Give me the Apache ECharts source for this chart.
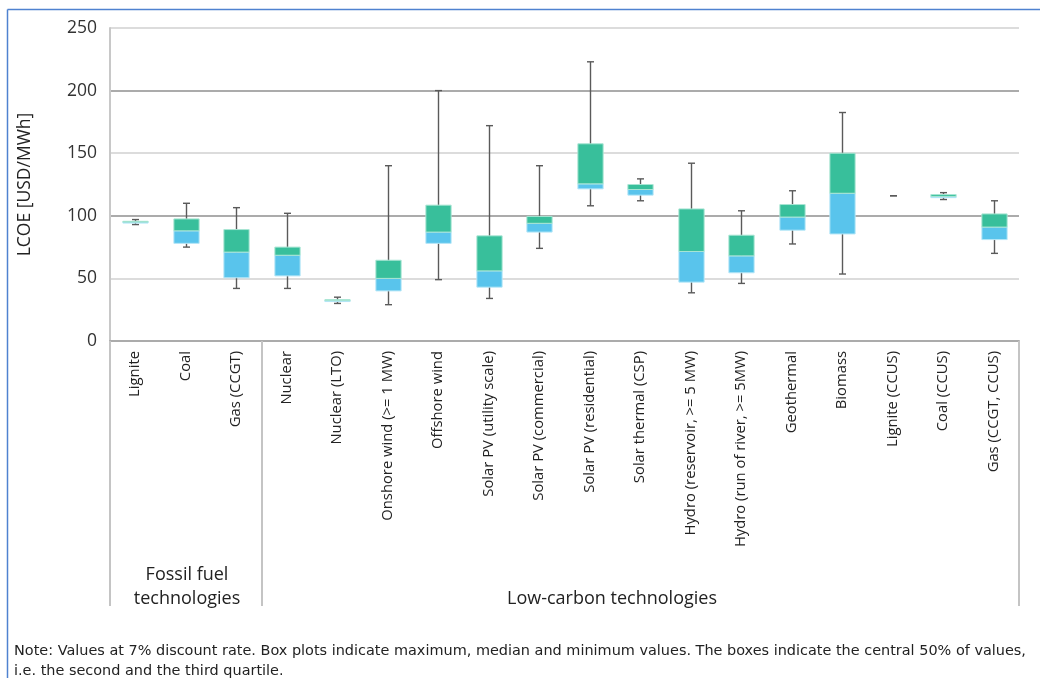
<!DOCTYPE html>
<html><head><meta charset="utf-8">
<script src="https://cdn.jsdelivr.net/npm/echarts@6/dist/echarts.min.js"></script>
<style>html,body{margin:0;padding:0;background:#fff}#c{width:1040px;height:678px}</style>
</head><body><div id="c"></div>
<script>
const categories = ['Lignite','Coal','Gas (CCGT)','Nuclear','Nuclear (LTO)','Onshore wind (>= 1 MW)','Offshore wind','Solar PV (utility scale)','Solar PV (commercial)','Solar PV (residential)','Solar thermal (CSP)','Hydro (reservoir, >= 5 MW)','Hydro (run of river, >= 5MW)','Geothermal','Biomass','Lignite (CCUS)','Coal (CCUS)','Gas (CCGT, CCUS)'];
const minValues    = [93, 75, 42, 42, 30, 29, 49, 34, 74, 108, 112, 38.5, 46, 77.5, 53.5, 116, 113, 70];
const q1Values     = [94.2, 78, 50.5, 52, 31.5, 40, 78, 43, 87, 121.5, 116.5, 47, 54.5, 88.5, 85.5, 116, 114.5, 81];
const medianValues = [95, 88, 71, 68.5, 32.3, 50, 87, 56, 94, 125.5, 121, 71.5, 68, 99, 118, 116, 115.5, 91];
const q3Values     = [95.6, 97.5, 89, 75, 33, 64.5, 108.5, 84, 99.5, 157.5, 125, 105.5, 84.5, 109, 150, 116, 117, 101.5];
const maxValues    = [97, 110, 106.5, 102, 35, 140, 200, 172, 140, 223, 129.5, 142, 104, 120, 182.5, 116, 118.5, 112];
const yTickInterval = 50;

const groupLabels = ['Fossil fuel\ntechnologies', 'Low-carbon technologies'];
const noteText = 'Note: Values at 7% discount rate. Box plots indicate maximum, median and minimum values. The boxes indicate the central 50% of values,\ni.e. the second and the third quartile.';

const chart = echarts.init(document.getElementById('c'), null, {renderer: 'canvas'});
const data = categories.map((c, i) => [i, minValues[i], q1Values[i], medianValues[i], q3Values[i], maxValues[i]]);

function renderItem(params, api) {
  const x = api.value(0);
  const pMin = api.coord([x, api.value(1)]);
  const pQ1 = api.coord([x, api.value(2)]);
  const pMed = api.coord([x, api.value(3)]);
  const pQ3 = api.coord([x, api.value(4)]);
  const pMax = api.coord([x, api.value(5)]);
  const band = api.size([1, 0])[0];
  const bw = band * 0.5;
  const cx = Math.round(pMin[0]) + 0.5;
  const cap = 3.5;
  const wStyle = {stroke: '#5a5a5a', lineWidth: 1.4};
  const children = [
    {type: 'line', shape: {x1: cx, y1: pMax[1], x2: cx, y2: pMin[1]}, style: wStyle},
    {type: 'line', shape: {x1: cx - cap, y1: pMax[1], x2: cx + cap, y2: pMax[1]}, style: wStyle},
    {type: 'line', shape: {x1: cx - cap, y1: pMin[1], x2: cx + cap, y2: pMin[1]}, style: wStyle}
  ];
  if (pQ1[1] - pMed[1] > 0.1) {
    children.push({type: 'rect', shape: {x: cx - bw / 2, y: pMed[1], width: bw, height: pQ1[1] - pMed[1]},
      style: {fill: '#59C4EC', stroke: '#b5e6f7', lineWidth: 1}});
  }
  if (pMed[1] - pQ3[1] > 0.1) {
    children.push({type: 'rect', shape: {x: cx - bw / 2, y: pQ3[1], width: bw, height: pMed[1] - pQ3[1]},
      style: {fill: '#38BF9B', stroke: '#a8e5d3', lineWidth: 1}});
  }
  return {type: 'group', children: children};
}

chart.setOption({
  animation: false,
  backgroundColor: '#fff',
  grid: {left: 110, right: 21, top: 28, bottom: 337, containLabel: false},
  xAxis: {
    type: 'category',
    data: categories,
    boundaryGap: true,
    axisLine: {show: true, lineStyle: {color: '#ababab', width: 2}},
    axisTick: {show: true, length: 265, interval: function (i) { return i === 0 || i === 3; },
      lineStyle: {color: '#c4c4c4', width: 2}},
    axisLabel: {rotate: 90, interval: 0, margin: 10, fontSize: 14.8, color: '#222', fontFamily: 'Open Sans'},
    splitLine: {show: false}
  },
  yAxis: {
    type: 'value', min: 0, max: 250, interval: yTickInterval,
    name: 'LCOE [USD/MWh]', nameLocation: 'middle', nameGap: 76,
    nameTextStyle: {fontSize: 17.5, color: '#222', fontFamily: 'Open Sans'},
    axisLine: {show: true, lineStyle: {color: '#c8c8c8', width: 2}},
    axisTick: {show: false},
    axisLabel: {fontSize: 17.5, color: '#333', margin: 13, fontFamily: 'Open Sans'},
    splitLine: {show: true, lineStyle: {color: ['#ababab', '#dcdcdc'], width: 2}}
  },
  series: [{
    type: 'custom',
    renderItem: renderItem,
    encode: {x: 0, y: [1, 2, 3, 4, 5]},
    data: data,
    z: 5
  }],
  graphic: [
    {type: 'line', shape: {x1: 7.5, y1: 9.5, x2: 1040, y2: 9.5}, style: {stroke: '#4f82d0', lineWidth: 1.5}, silent: true},
    {type: 'line', shape: {x1: 7.5, y1: 9.5, x2: 7.5, y2: 678}, style: {stroke: '#4f82d0', lineWidth: 1.5}, silent: true},
    {type: 'text', x: 187, y: 587, style: {text: groupLabels[0], font: '18px "Open Sans"', fill: '#222', align: 'center', verticalAlign: 'middle', lineHeight: 24}},
    {type: 'text', x: 612, y: 599, style: {text: groupLabels[1], font: '18px "Open Sans"', fill: '#222', align: 'center', verticalAlign: 'middle'}},
    {type: 'text', x: 14, y: 661, style: {text: noteText, font: '14.45px "DejaVu Sans"', fill: '#222', align: 'left', verticalAlign: 'middle', lineHeight: 20}}
  ]
});
</script></body></html>
